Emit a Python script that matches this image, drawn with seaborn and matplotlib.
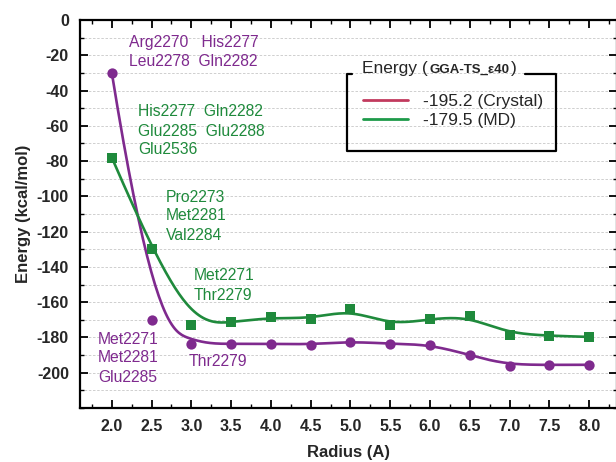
import numpy as np
import pandas as pd
import matplotlib
matplotlib.use("Agg")
import matplotlib.pyplot as plt
import seaborn as sns
from matplotlib.lines import Line2D
from matplotlib.ticker import MultipleLocator

radius = [2.0, 2.5, 3.0, 3.5, 4.0, 4.5, 5.0, 5.5, 6.0, 6.5, 7.0, 7.5, 8.0]
crystal = [-30, -170, -183.6, -183.6, -183.6, -184, -182.3, -183.6, -184, -190, -196, -195.5, -195.5]
md = [-78, -130, -172.7, -171.5, -168.6, -169.5, -164, -173, -169.5, -168, -178.5, -179, -179.7]
legend_labels = ["-195.2 (Crystal)", "-179.5 (MD)"]
xticks = [2.0, 2.5, 3.0, 3.5, 4.0, 4.5, 5.0, 5.5, 6.0, 6.5, 7.0, 7.5, 8.0]
yticks = [0, -20, -40, -60, -80, -100, -120, -140, -160, -180, -200]

PURPLE = "#7F2A8E"
GREEN = "#1F8A3C"
LEG_RED = "#C23A5E"
LEG_GREEN = "#1E9A4A"


def bspline(xs, ys, n=400, k=3):
    P = np.column_stack([xs, ys]).astype(float)
    m = len(P)
    knots = np.concatenate([np.zeros(k), np.linspace(0, 1, m - k + 1), np.ones(k)])
    t = np.linspace(0, 1, n)
    t[-1] = 1 - 1e-10

    def basis(i, kk, tt):
        if kk == 0:
            return np.where((knots[i] <= tt) & (tt < knots[i + 1]), 1.0, 0.0)
        out = np.zeros_like(tt)
        d1 = knots[i + kk] - knots[i]
        d2 = knots[i + kk + 1] - knots[i + 1]
        if d1 > 0:
            out += (tt - knots[i]) / d1 * basis(i, kk - 1, tt)
        if d2 > 0:
            out += (knots[i + kk + 1] - tt) / d2 * basis(i + 1, kk - 1, tt)
        return out

    B = np.array([basis(i, k, t) for i in range(m)])
    C = B.T @ P
    return C[:, 0], C[:, 1]


sns.set_theme(style="ticks")
plt.rcParams["font.family"] = ["Liberation Sans", "DejaVu Sans"]

W, H = 616, 462
fig = plt.figure(figsize=(W / 100, H / 100), dpi=100)
ax = fig.add_axes([80 / W, (H - 408) / H, (617 - 80) / W, (408 - 20) / H])

cx, cy = bspline(radius, crystal)
mx, my = bspline(radius, md)
sns.lineplot(x=cx, y=cy, ax=ax, color=PURPLE, lw=1.9, sort=False, estimator=None)
sns.lineplot(x=mx, y=my, ax=ax, color=GREEN, lw=1.9, sort=False, estimator=None)
sns.scatterplot(x=radius, y=crystal, ax=ax, color=PURPLE, marker="o", s=55, edgecolor=PURPLE, linewidth=0, zorder=5)
sns.scatterplot(x=radius, y=md, ax=ax, color=GREEN, marker="s", s=45, edgecolor=GREEN, linewidth=0, zorder=5)

ax.set_xlim(1.6, 8.35)
ax.set_ylim(-220, 0)
ax.set_xticks(xticks)
ax.set_xticklabels([f"{v:.1f}" for v in xticks], fontweight="bold", fontsize=11.5)
ax.set_yticks(yticks)
ax.set_yticklabels([f"{v}" for v in yticks], fontweight="bold", fontsize=11.5)
ax.xaxis.set_minor_locator(MultipleLocator(0.25))
ax.yaxis.set_minor_locator(MultipleLocator(10))
ax.tick_params(which="both", direction="in", top=True, right=True, color="black")
ax.tick_params(which="major", length=6, width=1.3, pad=8)
ax.tick_params(which="minor", length=3, width=1.0)
for s in ax.spines.values():
    s.set_linewidth(1.6)
    s.set_color("black")
ax.grid(True, axis="y", which="both", color="#c8c8c8", linestyle=(0, (3, 2)), lw=0.6)
ax.set_axisbelow(True)
ax.set_xlabel("Radius (A)", fontweight="bold", fontsize=12, labelpad=8)
ax.set_ylabel("Energy (kcal/mol)", fontweight="bold", fontsize=12, labelpad=4)


def fx(x):
    return x / W


def fy(y):
    return 1 - y / H


anns = [
    ("Arg2270   His2277", 129, 42, PURPLE),
    ("Leu2278  Gln2282", 129, 62, PURPLE),
    ("His2277  Gln2282", 138, 112, GREEN),
    ("Glu2285  Glu2288", 138, 131, GREEN),
    ("Glu2536", 138, 150, GREEN),
    ("Pro2273", 166, 197, GREEN),
    ("Met2281", 166, 216, GREEN),
    ("Val2284", 166, 235, GREEN),
    ("Met2271", 194, 276, GREEN),
    ("Thr2279", 194, 296, GREEN),
    ("Met2271", 98, 339, PURPLE),
    ("Met2281", 98, 358, PURPLE),
    ("Glu2285", 98, 377, PURPLE),
    ("Thr2279", 189, 362, PURPLE),
]
for txt, x, y, c in anns:
    fig.text(fx(x), fy(y), txt, color=c, fontsize=11.3, ha="left", va="center")

# legend frame with gap for the title
x0, x1, y0, y1 = 347, 556, 74, 151
fig.add_artist(Line2D([fx(352), fx(x0), fx(x0), fx(x1), fx(x1), fx(525)],
                      [fy(y0), fy(y0), fy(y1), fy(y1), fy(y0), fy(y0)],
                      color="black", lw=1.6))
t1 = fig.text(fx(362), fy(68), "Energy (", fontsize=12.5, ha="left", va="center")
ann2 = ax.annotate("GGA-TS_\u03b540", xy=(1, 0), xycoords=t1, xytext=(1, 0), textcoords="offset points",
                   fontsize=9.5, fontweight="bold", ha="left", va="bottom")
ax.annotate(")", xy=(1, 0), xycoords=ann2, xytext=(1, 0), textcoords="offset points",
            fontsize=12.5, ha="left", va="bottom")

handles = [Line2D([], [], color=LEG_RED, lw=2), Line2D([], [], color=LEG_GREEN, lw=2)]
leg = ax.legend(handles, legend_labels, frameon=False, fontsize=12.5, handlelength=2.6,
                handletextpad=0.9, labelspacing=0.25, loc="upper left",
                bbox_to_anchor=(fx(347), fy(78)), bbox_transform=fig.transFigure)

fig.savefig("out.png", dpi=100)
